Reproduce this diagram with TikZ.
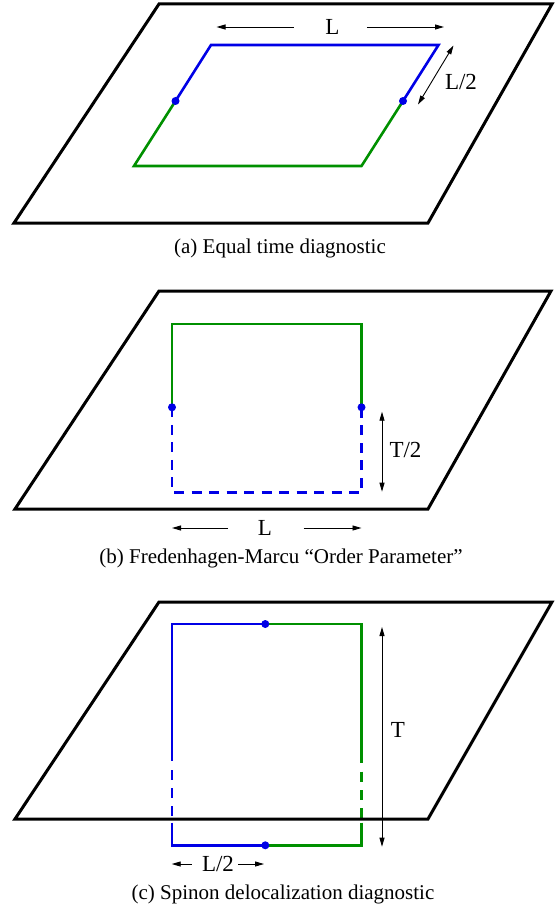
\documentclass[tikz,border=0pt]{standalone}
\usepackage{fontspec}
\setmainfont{Liberation Serif}
\usetikzlibrary{arrows.meta}
\definecolor{fblue}{RGB}{0,0,230}
\definecolor{fgreen}{RGB}{0,144,0}
\tikzset{
  plane/.style={draw=black, line width=3pt, line join=miter},
  loopb/.style={draw=fblue, line width=2.6pt, line join=miter},
  loopg/.style={draw=fgreen, line width=2.6pt, line join=miter},
  dashb/.style={loopb, dash pattern=on 10pt off 7.5pt},
  dim/.style={line width=0.9pt, -{Triangle[length=9pt,width=5pt]}},
  dimboth/.style={line width=0.9pt, {Triangle[length=9pt,width=5pt]}-{Triangle[length=9pt,width=5pt]}},
  lbl/.style={font=\fontsize{23}{27}\selectfont, inner sep=0pt},
  capt/.style={font=\fontsize{21}{25}\selectfont, inner sep=0pt},
  dot/.style={circle, fill=fblue, inner sep=0pt, minimum size=8pt}
}
\begin{document}
\begin{tikzpicture}[x=1pt,y=-1pt]
\useasboundingbox (0,0) rectangle (554,904);
% ---------------- (a)
\coordinate (a1) at (14,223);
\coordinate (a2) at (428,223);
\coordinate (a3) at (552,4);
\coordinate (a4) at (159,4);
\draw[plane] (a1) -- (a2) -- (a3) -- (a4) -- cycle;
\coordinate (aTL) at (211,45);
\coordinate (aTR) at (438.5,45);
\coordinate (aBL) at (134,166);
\coordinate (aBR) at (361.5,166);
\coordinate (aDL) at (175.5,101);
\coordinate (aDR) at (403,101);
\draw[loopb] (aDL) -- (aTL) -- (aTR) -- (aDR);
\draw[loopg] (aDL) -- (aBL) -- (aBR) -- (aDR);
\node[dot] (adl) at (aDL) {};
\node[dot] (adr) at (aDR) {};
\node[lbl] (aL) at (332.5,27) {L};
\coordinate (aLa) at (293.6,27);
\coordinate (aLb) at (216.5,27);
\coordinate (aLc) at (366.8,27);
\coordinate (aLd) at (444,27);
\draw[dim] (aLa) -- (aLb);
\draw[dim] (aLc) -- (aLd);
\coordinate (aH1) at (453.5,45.5);
\coordinate (aH2) at (418,104.5);
\draw[dimboth] (aH1) -- (aH2);
\node[lbl] (aHL) at (461,82) {L/2};
\node[capt] (acap) at (280,248) {(a) Equal time diagnostic};
% ---------------- (b)
\coordinate (b1) at (15,509);
\coordinate (b2) at (428,509);
\coordinate (b3) at (551,291);
\coordinate (b4) at (159,291);
\draw[plane] (b1) -- (b2) -- (b3) -- (b4) -- cycle;
\coordinate (bDL) at (172,407.3);
\coordinate (bDR) at (361.5,407.3);
\coordinate (bTL) at (172,324);
\coordinate (bTR) at (361.5,324);
\coordinate (bBL) at (172,492.7);
\coordinate (bBR) at (361.5,492.7);
\draw[loopg] (bDL) -- (bTL) -- (bTR) -- (bDR);
\draw[dashb] (bDL) -- (bBL) -- (bBR) -- (bDR);
\node[dot] (bdl) at (bDL) {};
\node[dot] (bdr) at (bDR) {};
\coordinate (bT1) at (382,411.7);
\coordinate (bT2) at (382,491.7);
\draw[dimboth] (bT1) -- (bT2);
\node[lbl] (bTL2) at (405.5,450) {T/2};
\node[lbl] (bL) at (265,528) {L};
\coordinate (bLa) at (228,528);
\coordinate (bLb) at (172,528);
\coordinate (bLc) at (303.5,528);
\coordinate (bLd) at (361.5,528);
\draw[dim] (bLa) -- (bLb);
\draw[dim] (bLc) -- (bLd);
\node[capt] (bcap) at (281,558) {(b) Fredenhagen-Marcu “Order Parameter”};
% ---------------- (c)
\coordinate (cM) at (265.3,624);
\coordinate (cMb) at (265.3,845.3);
\coordinate (cTL) at (172,624);
\coordinate (cTR) at (361.5,624);
\coordinate (cBL) at (172,845.3);
\coordinate (cBR) at (361.5,845.3);
\coordinate (cL1) at (172,761);
\coordinate (cL2) at (172,770);
\coordinate (cL3) at (172,816);
\coordinate (cL4) at (172,822.5);
\coordinate (cR1) at (361.5,763);
\coordinate (cR2) at (361.5,771.7);
\coordinate (cR3) at (361.5,818.3);
\coordinate (cR4) at (361.5,822.5);
\draw[loopb] (cM) -- (cTL) -- (cL1);
\draw[loopb, dash pattern=on 9.5pt off 8.5pt] (cL2) -- (cL3);
\draw[loopb] (cL4) -- (cBL) -- (cMb);
\draw[loopg] (cM) -- (cTR) -- (cR1);
\draw[loopg, dash pattern=on 10pt off 8.3pt] (cR2) -- (cR3);
\draw[loopg] (cR4) -- (cBR) -- (cMb);
\coordinate (c1) at (15,819);
\coordinate (c2) at (428,819);
\coordinate (c3) at (552,602);
\coordinate (c4) at (159,602);
\draw[plane] (c1) -- (c2) -- (c3) -- (c4) -- cycle;
\node[dot] (cdt) at (cM) {};
\node[dot] (cdb) at (cMb) {};
\coordinate (cT1) at (382,627);
\coordinate (cT2) at (382,846.7);
\draw[dimboth] (cT1) -- (cT2);
\node[lbl] (cT) at (398,730) {T};
\node[lbl] (cHL) at (218,864) {L/2};
\coordinate (cHa) at (191.7,864);
\coordinate (cHb) at (171.7,864);
\coordinate (cHc) at (238.3,864);
\coordinate (cHd) at (264,864);
\draw[dim] (cHa) -- (cHb);
\draw[dim] (cHc) -- (cHd);
\node[capt] (ccap) at (283,894) {(c) Spinon delocalization diagnostic};
\end{tikzpicture}
\end{document}
